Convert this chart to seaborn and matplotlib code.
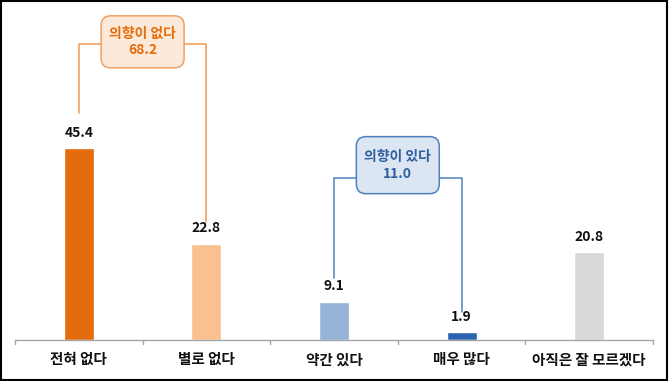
import matplotlib
matplotlib.use("Agg")
import matplotlib.pyplot as plt
import seaborn as sns
import pandas as pd
import numpy as np
from matplotlib.patches import FancyBboxPatch, Rectangle

categories = ["전혀 없다", "별로 없다", "약간 있다", "매우 많다", "아직은 잘 모르겠다"]
values = [45.4, 22.8, 9.1, 1.9, 20.8]
bar_colors = ["#E46C0A", "#FAC090", "#95B3D7", "#2A64B0", "#D9D9D9"]

group_labels = ["의향이 없다", "의향이 있다"]
group_values = [68.2, 11.0]
group_members = [(0, 1), (2, 3)]

sns.set_theme(style="white")
plt.rcParams["font.family"] = ["Noto Sans CJK KR", "DejaVu Sans"]

fig = plt.figure(figsize=(6.69, 3.81), dpi=100)
ax = fig.add_axes([15 / 669, 41 / 381, 638 / 669, 340 / 381])

df = pd.DataFrame({"cat": categories, "val": values})
sns.barplot(data=df, x="cat", y="val", hue="cat", palette=bar_colors,
            width=0.235, legend=False, ax=ax, saturation=1)

ax.set_xlim(-0.5, len(categories) - 0.5)
ax.set_ylim(0, 80.5)
ax.set_xlabel("")
ax.set_ylabel("")
ax.set_yticks([])
for s in ["top", "right", "left"]:
    ax.spines[s].set_visible(False)
ax.spines["bottom"].set_color("#A6A6A6")
ax.spines["bottom"].set_linewidth(1.0)

ax.set_xticks(np.arange(len(categories)))
ax.set_xticklabels(categories, fontsize=10.5, fontweight="heavy", color="#111111")
ax.tick_params(axis="x", length=0, pad=8)
for b in np.arange(-0.5, len(categories), 1.0):
    ax.plot([b, b], [0, -1.0], color="#A6A6A6", lw=1.0, clip_on=False)

for i, v in enumerate(values):
    ax.text(i, v + 2.0, f"{v:.1f}", ha="center", va="bottom", fontsize=10,
            fontweight="heavy", color="#111111")

styles = [
    dict(line="#F09A50", face="#FDE9D9", edge="#F0A060", text="#E46C0A",
         level=70.1, box_y=70.6, box_h=12.3, gaps=[8.3, 5.1]),
    dict(line="#4F81BD", face="#DCE6F2", edge="#4F81BD", text="#2E5FA1",
         level=38.3, box_y=41.4, box_h=13.5, gaps=[5.6, 4.7]),
]
box_w = 0.65
for (a, b), lab, gv, st in zip(group_members, group_labels, group_values, styles):
    mid = (a + b) / 2
    lvl = st["level"]
    ax.plot([a, a, mid], [values[a] + st["gaps"][0], lvl, lvl], color=st["line"], lw=1.1)
    ax.plot([b, b, mid], [values[b] + st["gaps"][1], lvl, lvl], color=st["line"], lw=1.1)
    box = FancyBboxPatch((mid - box_w / 2, st["box_y"] - st["box_h"] / 2),
                         box_w, st["box_h"],
                         boxstyle="round,pad=0,rounding_size=0.075",
                         mutation_aspect=30.2,
                         fc=st["face"], ec=st["edge"], lw=1.1, zorder=5)
    ax.add_patch(box)
    ax.text(mid, st["box_y"], f"{lab}\n{gv:.1f}", ha="center", va="center",
            fontsize=10, fontweight="heavy", color=st["text"], zorder=6,
            linespacing=1.25)

fig.patches.append(Rectangle((0.002, 0.003), 0.995, 0.994, transform=fig.transFigure,
                             fill=False, ec="black", lw=1.5))

fig.savefig("out.png", dpi=100)
